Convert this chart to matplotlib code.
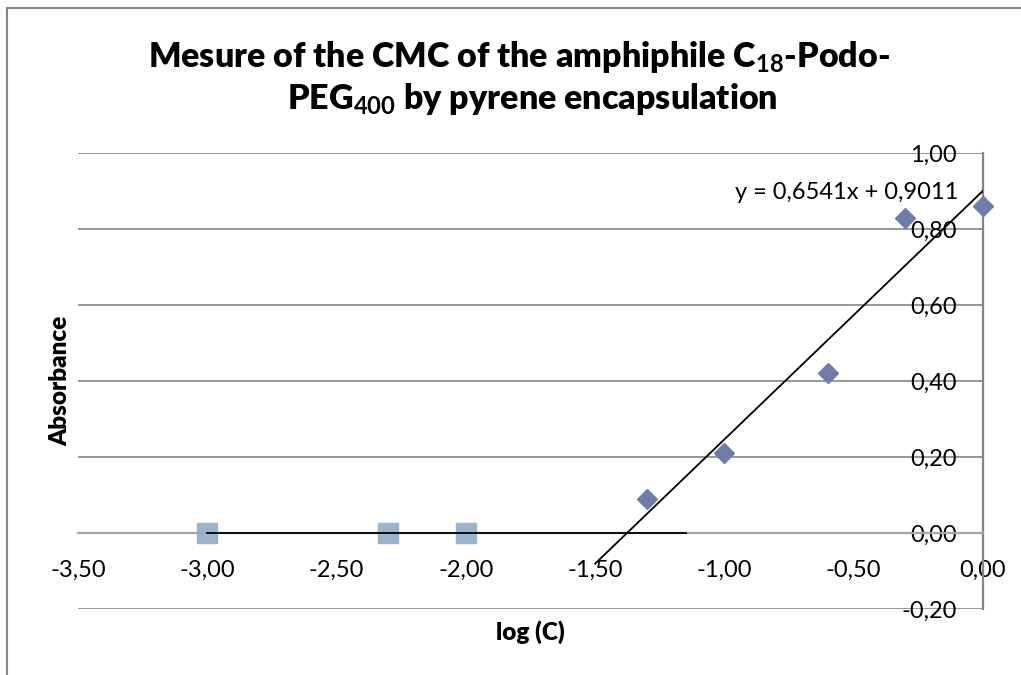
import numpy as np
import matplotlib
matplotlib.use("Agg")
import matplotlib.pyplot as plt
from matplotlib.lines import Line2D

# ---- data ----
x_above = [-1.30, -1.00, -0.60, -0.30, 0.00]
y_above = [0.09, 0.21, 0.42, 0.83, 0.86]
x_below = [-3.00, -2.30, -2.00]
y_below = [0.00, 0.00, 0.00]
x_ticks = [-3.5, -3.0, -2.5, -2.0, -1.5, -1.0, -0.5, 0.0]
y_ticks = [-0.2, 0.0, 0.2, 0.4, 0.6, 0.8, 1.0]
fit_range_above = [-1.50, 0.00]
fit_range_below = [-3.00, -1.15]
equation = "y = 0,6541x + 0,9011"

FONT = "Lato"
plt.rcParams['font.family'] = [FONT, 'DejaVu Sans']
plt.rcParams['mathtext.fontset'] = 'custom'
plt.rcParams['mathtext.rm'] = FONT
plt.rcParams['mathtext.bf'] = FONT + ':bold'

fig = plt.figure(figsize=(10.21, 6.75), dpi=100)
W, H = 1021, 675
ax = fig.add_axes([78 / W, 1 - 609 / H, (983 - 78) / W, (609 - 153) / H])

ax.set_xlim(-3.5, 0.0)
ax.set_ylim(-0.2, 1.0)
ax.set_xticks(x_ticks)
ax.set_yticks(y_ticks)
fmt = lambda v: f"{v:.2f}".replace(".", ",")
ax.set_xticklabels([fmt(v) for v in x_ticks])
ax.set_yticklabels([fmt(v) if abs(v) > 1e-9 else "0,00" for v in y_ticks])

grid_c = "#868686"
ax.yaxis.grid(True, color=grid_c, lw=1.2)
ax.xaxis.grid(False)
ax.set_axisbelow(True)

for s in ["top", "right"]:
    ax.spines[s].set_visible(False)
ax.spines["left"].set_position(("data", 0.0))
ax.spines["left"].set_color(grid_c)
ax.spines["left"].set_linewidth(1.6)
ax.spines["bottom"].set_position(("data", 0.0))
ax.spines["bottom"].set_color("#a6a6a6")
ax.spines["bottom"].set_linewidth(1.6)

ax.tick_params(axis="both", length=0, labelsize=17, colors="black")
ax.tick_params(axis="x", pad=19)
ax.tick_params(axis="y", pad=19)

# trendlines
c1 = np.polyfit(x_above, y_above, 1)
xa = np.array(fit_range_above)
ax.plot(xa, np.polyval(c1, xa), color="black", lw=1.3, zorder=3)
c2 = np.polyfit(x_below, y_below, 1)
xb = np.array(fit_range_below)
ax.plot(xb, np.polyval(c2, xb), color="black", lw=1.3, zorder=3)

# markers
ax.plot(x_above, y_above, linestyle="none", marker="D", ms=10.2,
        color="#6F7BA8", mec="#6F7BA8", zorder=4, clip_on=False)
ax.plot(x_below, y_below, linestyle="none", marker="s", ms=14.4,
        color="#9AB4CE", mec="#9AB4CE", zorder=2, clip_on=False)

ax.text(-0.527, 0.895, equation, fontsize=17, ha="center", va="center", zorder=5)

# axis titles
fig.text(60 / W, 1 - 381 / H, "Absorbance", rotation=90, fontsize=17.5,
         fontweight="heavy", ha="center", va="center")
fig.text(530 / W, 1 - 632 / H, "log (C)", fontsize=17.5,
         fontweight="heavy", ha="center", va="center")

# title
fig.text(519 / W, 1 - 57 / H,
         r"Mesure of the CMC of the amphiphile C$_{\mathbf{18}}$-Podo-",
         fontsize=24.5, fontweight="heavy", ha="center", va="center")
fig.text(532 / W, 1 - 99 / H,
         r"PEG$_{\mathbf{400}}$ by pyrene encapsulation",
         fontsize=24.5, fontweight="heavy", ha="center", va="center")

# chart border (left and top visible)
fig.add_artist(Line2D([7 / W, 7 / W], [0, 1 - 8 / H], transform=fig.transFigure,
                      color="#868686", lw=1.5))
fig.add_artist(Line2D([7 / W, 1], [1 - 8 / H, 1 - 8 / H], transform=fig.transFigure,
                      color="#868686", lw=1.5))

fig.savefig("out.png", dpi=100)
